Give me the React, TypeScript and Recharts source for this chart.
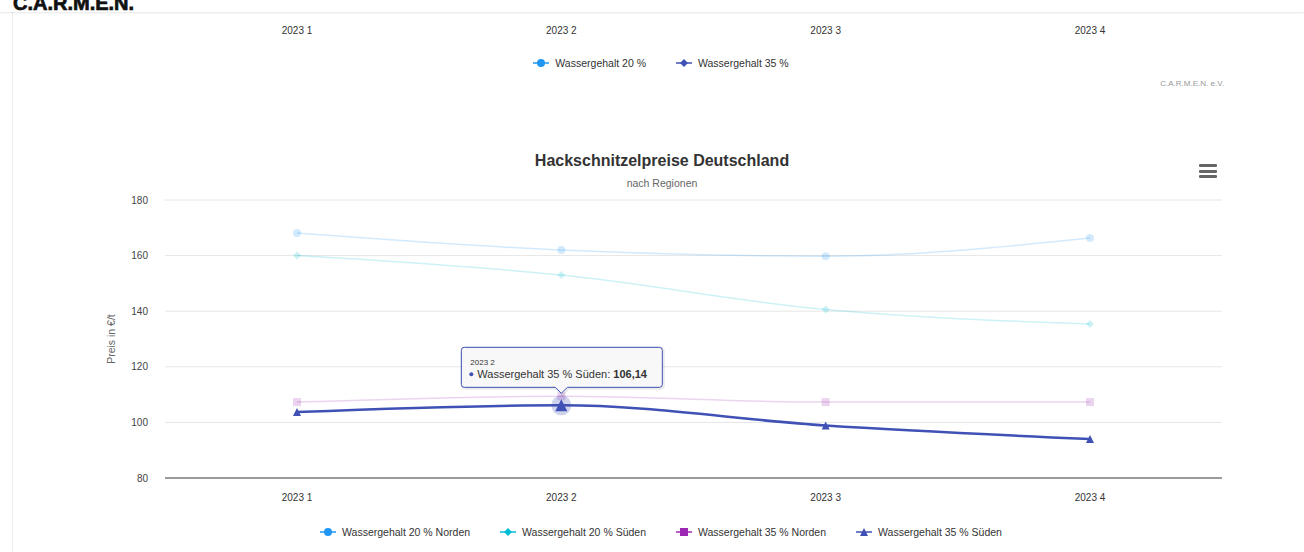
import React from 'react';
import { LineChart, Line, XAxis, YAxis, CartesianGrid, Legend } from 'recharts';

// Quartale und Preise in €/t
const quarters = ['2023 1', '2023 2', '2023 3', '2023 4'];
const nord20 = [168.1, 162.0, 159.8, 166.3];
const sued20 = [160.0, 153.0, 140.6, 135.4];
const nord35 = [107.3, 109.4, 107.3, 107.3];
const sued35 = [103.7, 106.14, 98.9, 94.0];
const yTicks = [80, 100, 120, 140, 160, 180];

// hovered point in the screenshot
const hoveredSeries = 'sued35';
const hoveredIndex = 1;

const FONT = '"Liberation Sans", Arial, Helvetica, sans-serif';

type Shape = 'circle' | 'diamond' | 'square' | 'triangle';

interface SeriesCfg {
  key: string;
  name: string;
  color: string;
  shape: Shape;
}

const regionSeries: SeriesCfg[] = [
  { key: 'nord20', name: 'Wassergehalt 20 % Norden', color: '#2196F3', shape: 'circle' },
  { key: 'sued20', name: 'Wassergehalt 20 % Süden', color: '#00BCD4', shape: 'diamond' },
  { key: 'nord35', name: 'Wassergehalt 35 % Norden', color: '#9C27B0', shape: 'square' },
  { key: 'sued35', name: 'Wassergehalt 35 % Süden', color: '#3F51B5', shape: 'triangle' },
];

// upper chart (only its bottom edge is visible)
const totalSeries: SeriesCfg[] = [
  { key: 'w20', name: 'Wassergehalt 20 %', color: '#2196F3', shape: 'circle' },
  { key: 'w35', name: 'Wassergehalt 35 %', color: '#3F51B5', shape: 'diamond' },
];

const regionData = quarters.map((q, i) => ({
  quarter: q,
  nord20: nord20[i],
  sued20: sued20[i],
  nord35: nord35[i],
  sued35: sued35[i],
}));

const totalData = quarters.map((q) => ({ quarter: q }));

function Marker({ shape, cx, cy, r, color, opacity }: { shape: Shape; cx: number; cy: number; r: number; color: string; opacity: number }) {
  if (shape === 'circle') {
    return <circle cx={cx} cy={cy} r={r} fill={color} fillOpacity={opacity} />;
  }
  let d = '';
  if (shape === 'diamond') d = `M${cx},${cy - r}L${cx + r},${cy}L${cx},${cy + r}L${cx - r},${cy}Z`;
  if (shape === 'square') d = `M${cx - r},${cy - r}H${cx + r}V${cy + r}H${cx - r}Z`;
  if (shape === 'triangle') d = `M${cx},${cy - r}L${cx + r},${cy + r}L${cx - r},${cy + r}Z`;
  return <path d={d} fill={color} fillOpacity={opacity} />;
}

function TooltipBox({ cx, cy, cfg, label, value }: { cx: number; cy: number; cfg: SeriesCfg; label: string; value: number }) {
  const left = cx - 100;
  const right = cx + 101;
  const top = cy - 58;
  const bottom = cy - 18;
  const r = 3;
  const d = `M${left + r},${top}H${right - r}Q${right},${top} ${right},${top + r}V${bottom - r}Q${right},${bottom} ${right - r},${bottom}` +
    `H${cx + 6}L${cx},${cy - 12}L${cx - 6},${bottom}H${left + r}Q${left},${bottom} ${left},${bottom - r}V${top + r}Q${left},${top} ${left + r},${top}Z`;
  return (
    <g>
      <path d={d} transform="translate(1,1)" fill="none" stroke="#000" strokeOpacity={0.08} strokeWidth={3} />
      <path d={d} fill="#f7f7f7" fillOpacity={0.92} stroke={cfg.color} strokeWidth={1} />
      <text x={left + 9} y={cy - 40} fontSize={8} fill="#333">{label}</text>
      <circle cx={left + 10} cy={cy - 31} r={2} fill={cfg.color} />
      <text x={left + 16} y={cy - 27} fontSize={11} fill="#333">
        {cfg.name}: <tspan fontWeight="bold">{value.toFixed(2).replace('.', ',')}</tspan>
      </text>
    </g>
  );
}

function makeDot(cfg: SeriesCfg, active: boolean) {
  return (props: any) => {
    const { cx, cy, index, value, payload } = props;
    if (cx == null || cy == null || value == null) return <g key={`dot-${cfg.key}-${index}`} />;
    const hovered = active && index === hoveredIndex;
    return (
      <g key={`dot-${cfg.key}-${index}`}>
        {hovered && <circle cx={cx} cy={cy} r={10} fill={cfg.color} fillOpacity={0.25} />}
        <Marker shape={cfg.shape} cx={cx} cy={cy} r={hovered ? 6 : 4} color={cfg.color} opacity={active ? 1 : 0.2} />
        {hovered && <TooltipBox cx={cx} cy={cy} cfg={cfg} label={payload.quarter} value={value} />}
      </g>
    );
  };
}

function makeLegend(series: SeriesCfg[], padTop: number) {
  return (props: any) => {
    const payload = props.payload || [];
    return (
      <div style={{ display: 'flex', justifyContent: 'center', gap: 30, paddingTop: padTop, fontSize: 10.5, color: '#333' }}>
        {payload.map((entry: any) => {
          const cfg = series.find((s) => s.key === entry.dataKey) || series[0];
          return (
            <div key={cfg.key} style={{ display: 'flex', alignItems: 'center', height: 16 }}>
              <svg width={16} height={12} style={{ marginRight: 6 }}>
                <line x1={0} y1={6} x2={16} y2={6} stroke={cfg.color} strokeWidth={1.5} />
                <Marker shape={cfg.shape} cx={8} cy={6} r={4} color={cfg.color} opacity={1} />
              </svg>
              <span>{entry.value}</span>
            </div>
          );
        })}
      </div>
    );
  };
}

const renderYLabel = (props: any) => {
  const vb = props.viewBox || { x: 100, y: 60, width: 65, height: 278 };
  const x = vb.x + 11;
  const y = vb.y + vb.height / 2;
  return (
    <text x={x} y={y} transform={`rotate(-90 ${x} ${y})`} textAnchor="middle" dominantBaseline="central" fontSize={10.5} fill="#666">
      Preis in €/t
    </text>
  );
};

function PriceChart({ data, series, legendPad }: { data: any[]; series: SeriesCfg[]; legendPad: number }) {
  return (
    <LineChart width={1304} height={412} data={data} margin={{ top: 60, right: 82, left: 100, bottom: 0 }} style={{ fontFamily: FONT }}>
      <CartesianGrid vertical={false} stroke="#e6e6e6" />
      <XAxis
        dataKey="quarter"
        height={30}
        padding={{ left: 132, right: 132 }}
        tickLine={false}
        tickSize={0}
        tickMargin={16}
        axisLine={{ stroke: '#444' }}
        tick={{ fontSize: 10, fill: '#333' }}
      />
      <YAxis
        width={65}
        domain={[80, 180]}
        ticks={yTicks}
        axisLine={false}
        tickLine={false}
        tickSize={0}
        tickMargin={17}
        tick={{ fontSize: 10, fill: '#444' }}
        label={renderYLabel}
      />
      <Legend verticalAlign="bottom" height={44} content={makeLegend(series, legendPad)} />
      {series.map((s) => {
        const active = s.key === hoveredSeries || series !== regionSeries;
        return (
          <Line
            key={s.key}
            type="monotone"
            dataKey={s.key}
            name={s.name}
            stroke={s.color}
            strokeOpacity={active ? 1 : 0.2}
            strokeWidth={active ? 2.5 : 1.5}
            dot={makeDot(s, active)}
            activeDot={false}
            isAnimationActive={false}
          />
        );
      })}
    </LineChart>
  );
}

export default function App() {
  return (
    <div style={{ position: 'absolute', left: 0, top: 0, width: 1304, height: 552, overflow: 'hidden', background: '#fff', fontFamily: FONT }}>
      <div style={{ position: 'absolute', left: 12, top: 0, width: 1, height: 552, background: '#eeeeee' }} />

      {/* upper chart, scrolled away */}
      <div style={{ position: 'absolute', left: 0, top: -327 }}>
        <PriceChart data={totalData} series={totalSeries} legendPad={14} />
      </div>
      <div style={{ position: 'absolute', right: 80, top: 79, fontSize: 8, color: '#999' }}>C.A.R.M.E.N. e.V.</div>

      {/* regional chart */}
      <div style={{ position: 'absolute', left: 0, top: 140 }}>
        <PriceChart data={regionData} series={regionSeries} legendPad={16} />
      </div>
      <div style={{ position: 'absolute', left: 0, width: 1324, top: 151, textAlign: 'center', fontSize: 16, fontWeight: 'bold', color: '#333', lineHeight: '20px' }}>
        Hackschnitzelpreise Deutschland
      </div>
      <div style={{ position: 'absolute', left: 0, width: 1324, top: 177, textAlign: 'center', fontSize: 10.5, color: '#666', lineHeight: '12px' }}>
        nach Regionen
      </div>
      <div style={{ position: 'absolute', left: 1199, top: 164 }}>
        {[0, 1, 2].map((i) => (
          <div key={i} style={{ width: 18, height: 3, background: '#666', borderRadius: 1, marginBottom: 2.5 }} />
        ))}
      </div>

      {/* page header */}
      <div style={{ position: 'absolute', left: 0, top: 0, width: 1304, height: 12, background: '#fff', boxShadow: '0 1px 2px rgba(0,0,0,0.10)', overflow: 'hidden', zIndex: 10 }}>
        <div style={{ position: 'absolute', left: 13, top: -7, fontSize: 20, fontWeight: 'bold', color: '#111', lineHeight: '20px', WebkitTextStroke: '0.7px #111' }}>
          C.A.R.M.E.N.
        </div>
      </div>
    </div>
  );
}
